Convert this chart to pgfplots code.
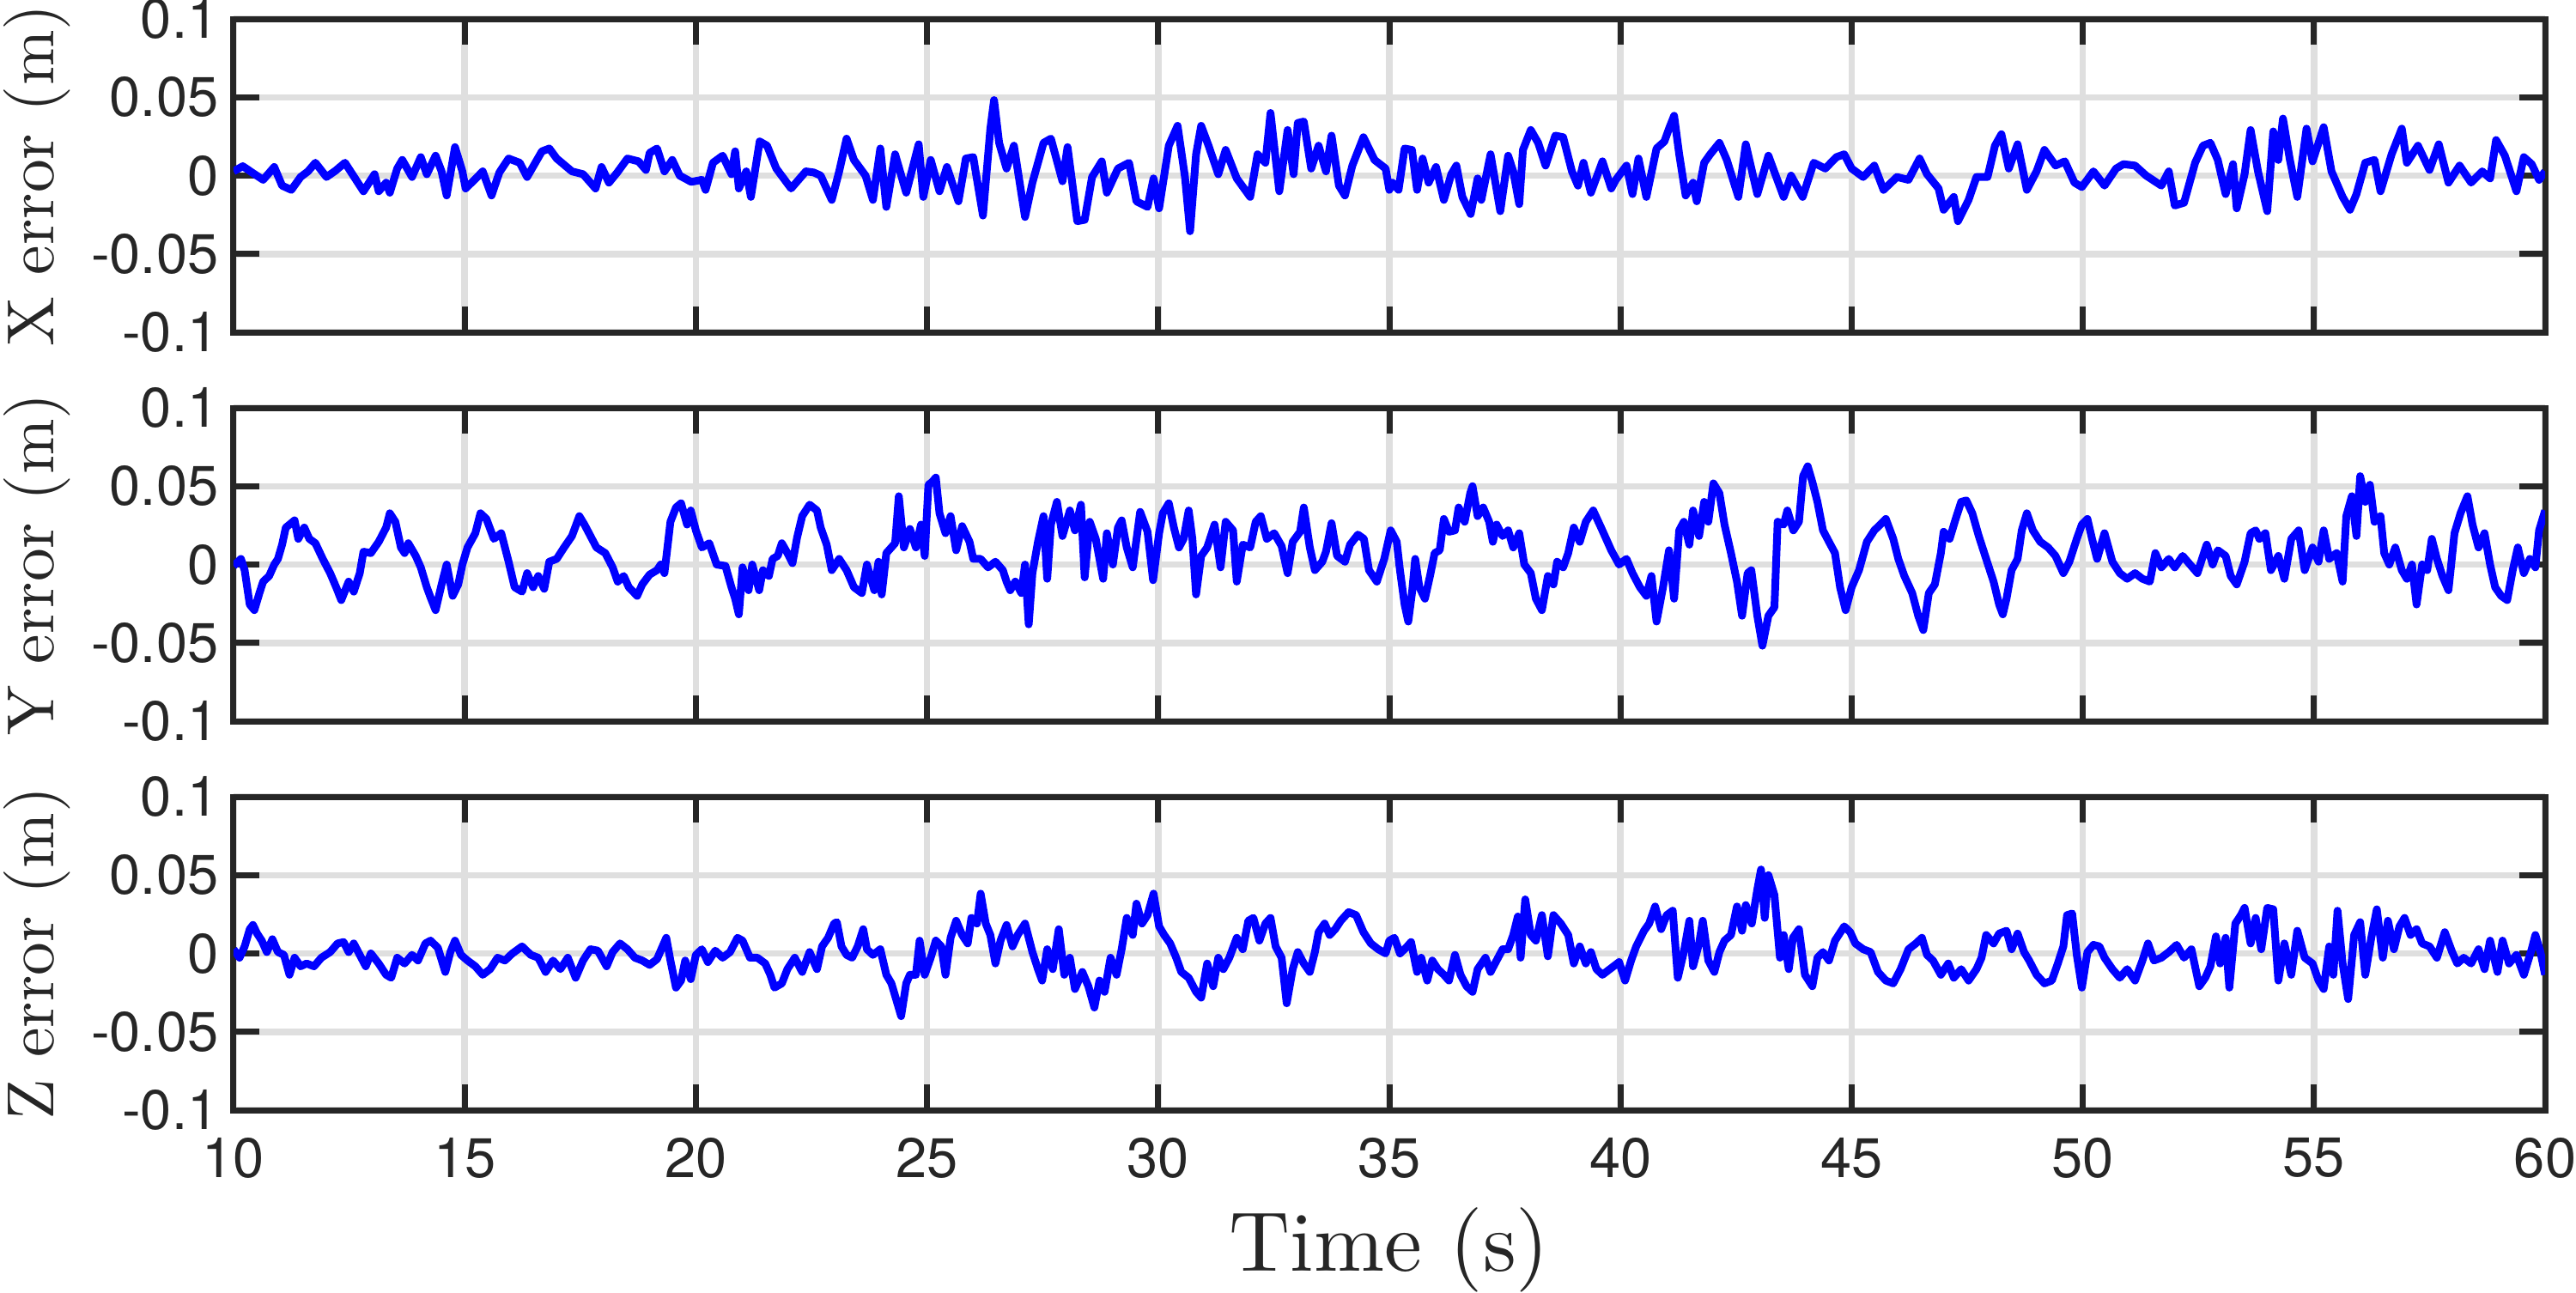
\documentclass[border=0pt]{standalone}
\usepackage{fontspec}
\usepackage{pgfplots}
\usepackage{pgfplotstable}
\pgfplotsset{compat=1.18}

\newfontfamily\ticksans{TeX Gyre Heros}
\newfontfamily\labelserif{lmroman10-regular}[Extension=.otf]
\definecolor{framec}{RGB}{38,38,38}
\definecolor{gridc}{RGB}{223,223,223}
\definecolor{trace}{RGB}{0,0,255}

% position error along x (m)
\pgfplotstableread{
t v
10.00 0.0027
10.20 0.0060
10.40 0.0020
10.64 -0.0027
10.88 0.0055
11.05 -0.0064
11.25 -0.0091
11.45 -0.0009
11.61 0.0027
11.77 0.0082
12.01 -0.0009
12.20 0.0030
12.41 0.0082
12.57 0.0009
12.81 -0.0100
13.05 0.0009
13.14 -0.0100
13.30 -0.0045
13.38 -0.0109
13.54 0.0045
13.65 0.0100
13.86 -0.0009
14.05 0.0118
14.18 0.0009
14.37 0.0127
14.50 0.0027
14.61 -0.0127
14.79 0.0182
14.95 0.0027
15.02 -0.0082
15.20 -0.0030
15.39 0.0027
15.58 -0.0127
15.75 0.0020
15.95 0.0109
16.19 0.0082
16.35 -0.0009
16.67 0.0155
16.83 0.0173
16.99 0.0109
17.32 0.0027
17.56 0.0009
17.83 -0.0082
17.96 0.0055
18.12 -0.0045
18.30 0.0020
18.52 0.0109
18.76 0.0091
18.92 0.0036
19.00 0.0145
19.16 0.0173
19.32 0.0027
19.49 0.0100
19.65 0.0000
19.90 -0.0040
20.13 -0.0027
20.21 -0.0091
20.37 0.0082
20.58 0.0127
20.77 0.0009
20.85 0.0155
20.93 -0.0082
21.09 0.0027
21.19 -0.0136
21.38 0.0218
21.54 0.0191
21.74 0.0045
22.06 -0.0082
22.38 0.0027
22.55 0.0020
22.70 0.0000
22.94 -0.0155
23.10 0.0027
23.26 0.0236
23.42 0.0100
23.67 0.0000
23.83 -0.0155
23.99 0.0173
24.12 -0.0200
24.31 0.0136
24.55 -0.0109
24.82 0.0200
24.92 -0.0136
25.08 0.0100
25.27 -0.0100
25.43 0.0055
25.68 -0.0164
25.84 0.0109
26.00 0.0118
26.21 -0.0255
26.37 0.0300
26.45 0.0482
26.56 0.0209
26.72 0.0045
26.88 0.0191
27.12 -0.0264
27.28 -0.0045
27.52 0.0209
27.68 0.0236
27.93 -0.0036
28.04 0.0182
28.25 -0.0291
28.41 -0.0282
28.57 -0.0009
28.78 0.0091
28.89 -0.0109
29.13 0.0045
29.37 0.0082
29.53 -0.0164
29.77 -0.0200
29.90 -0.0018
30.02 -0.0209
30.23 0.0191
30.42 0.0318
30.58 -0.0009
30.69 -0.0355
30.82 0.0136
30.93 0.0318
31.09 0.0191
31.30 0.0009
31.46 0.0164
31.70 -0.0018
31.99 -0.0136
32.15 0.0136
32.32 0.0082
32.43 0.0400
32.62 -0.0100
32.80 0.0291
32.93 0.0009
33.02 0.0336
33.15 0.0345
33.31 0.0045
33.47 0.0191
33.63 0.0027
33.75 0.0255
33.91 -0.0064
34.04 -0.0127
34.20 0.0064
34.44 0.0245
34.68 0.0100
34.92 0.0045
35.00 -0.0091
35.07 -0.0045
35.20 -0.0091
35.33 0.0173
35.49 0.0164
35.60 -0.0091
35.72 0.0109
35.85 -0.0045
36.01 0.0055
36.18 -0.0155
36.34 0.0009
36.45 0.0064
36.58 -0.0136
36.76 -0.0245
36.91 -0.0018
36.99 -0.0155
37.19 0.0136
37.40 -0.0227
37.57 0.0127
37.68 0.0027
37.81 -0.0182
37.89 0.0164
38.06 0.0291
38.22 0.0209
38.38 0.0064
38.59 0.0255
38.76 0.0245
38.95 0.0027
39.08 -0.0064
39.20 0.0082
39.36 -0.0109
39.61 0.0091
39.80 -0.0082
39.90 -0.0027
40.13 0.0064
40.26 -0.0118
40.39 0.0109
40.56 -0.0136
40.78 0.0173
40.95 0.0218
41.05 0.0300
41.16 0.0382
41.27 0.0136
41.41 -0.0127
41.57 -0.0045
41.65 -0.0164
41.81 0.0082
41.94 0.0136
42.14 0.0209
42.30 0.0100
42.55 -0.0136
42.71 0.0200
42.96 -0.0118
43.20 0.0127
43.37 -0.0009
43.53 -0.0136
43.69 0.0000
43.94 -0.0136
44.18 0.0082
44.43 0.0045
44.67 0.0118
44.84 0.0136
45.00 0.0045
45.25 -0.0009
45.49 0.0064
45.69 -0.0091
45.98 -0.0009
46.23 -0.0027
46.47 0.0109
46.63 0.0009
46.88 -0.0082
46.99 -0.0218
47.21 -0.0136
47.30 -0.0291
47.53 -0.0155
47.70 -0.0009
47.94 -0.0009
48.10 0.0191
48.24 0.0264
48.40 0.0045
48.59 0.0200
48.79 -0.0091
49.00 0.0027
49.17 0.0164
49.41 0.0064
49.61 0.0091
49.82 -0.0045
49.98 -0.0073
50.23 0.0027
50.47 -0.0064
50.72 0.0045
50.88 0.0073
51.13 0.0064
51.37 0.0000
51.70 -0.0064
51.86 0.0027
51.99 -0.0191
52.19 -0.0173
52.43 0.0082
52.60 0.0191
52.76 0.0209
52.92 0.0100
53.09 -0.0118
53.25 0.0073
53.33 -0.0209
53.50 0.0009
53.63 0.0291
53.79 0.0027
53.99 -0.0227
54.12 0.0282
54.23 0.0100
54.33 0.0364
54.48 0.0100
54.64 -0.0136
54.84 0.0300
54.97 0.0091
55.21 0.0309
55.38 0.0027
55.62 -0.0136
55.78 -0.0218
55.92 -0.0118
56.11 0.0082
56.31 0.0100
56.44 -0.0100
56.68 0.0136
56.90 0.0300
57.01 0.0082
57.25 0.0191
57.50 0.0036
57.70 0.0200
57.91 -0.0045
58.15 0.0064
58.40 -0.0045
58.64 0.0027
58.81 -0.0018
58.94 0.0227
59.13 0.0127
59.38 -0.0100
59.54 0.0118
59.71 0.0073
59.87 -0.0027
60.00 0.0027
}\xerr

% position error along y (m)
\pgfplotstableread{
t v
10.00 -0.0009
10.16 0.0036
10.24 -0.0036
10.35 -0.0255
10.45 -0.0291
10.56 -0.0182
10.64 -0.0109
10.77 -0.0073
10.88 0.0000
10.96 0.0036
11.05 0.0127
11.13 0.0236
11.21 0.0255
11.32 0.0282
11.40 0.0164
11.53 0.0236
11.64 0.0164
11.77 0.0136
11.93 0.0036
12.09 -0.0055
12.22 -0.0145
12.33 -0.0227
12.49 -0.0109
12.60 -0.0173
12.73 -0.0055
12.81 0.0082
12.97 0.0073
13.14 0.0145
13.30 0.0236
13.38 0.0327
13.50 0.0273
13.62 0.0109
13.70 0.0073
13.78 0.0136
13.94 0.0055
14.05 -0.0018
14.18 -0.0145
14.26 -0.0209
14.37 -0.0291
14.50 -0.0127
14.61 0.0000
14.74 -0.0200
14.86 -0.0127
14.95 0.0000
15.06 0.0109
15.23 0.0200
15.34 0.0327
15.47 0.0291
15.63 0.0164
15.79 0.0200
15.95 0.0018
16.08 -0.0145
16.24 -0.0173
16.35 -0.0055
16.48 -0.0145
16.59 -0.0073
16.72 -0.0155
16.83 0.0018
16.99 0.0036
17.15 0.0109
17.32 0.0182
17.48 0.0309
17.59 0.0255
17.72 0.0182
17.85 0.0109
18.04 0.0073
18.20 -0.0018
18.31 -0.0109
18.44 -0.0073
18.55 -0.0145
18.73 -0.0200
18.84 -0.0127
19.00 -0.0064
19.16 -0.0036
19.24 0.0000
19.32 -0.0055
19.45 0.0273
19.57 0.0364
19.68 0.0391
19.81 0.0255
19.89 0.0345
20.00 0.0218
20.13 0.0109
20.29 0.0136
20.45 0.0000
20.64 -0.0009
20.77 -0.0145
20.85 -0.0218
20.93 -0.0318
21.01 -0.0018
21.14 -0.0164
21.22 0.0000
21.37 -0.0164
21.45 -0.0036
21.58 -0.0073
21.66 0.0036
21.77 0.0055
21.86 0.0136
21.98 0.0073
22.09 0.0009
22.19 0.0173
22.30 0.0309
22.46 0.0382
22.62 0.0345
22.70 0.0236
22.83 0.0127
22.94 -0.0036
23.10 0.0036
23.26 -0.0036
23.42 -0.0145
23.59 -0.0182
23.70 0.0000
23.86 -0.0164
23.95 0.0018
24.02 -0.0191
24.12 0.0073
24.31 0.0136
24.39 0.0436
24.50 0.0109
24.63 0.0227
24.76 0.0109
24.87 0.0255
24.95 0.0055
25.03 0.0509
25.11 0.0527
25.19 0.0555
25.27 0.0327
25.40 0.0200
25.51 0.0309
25.63 0.0091
25.76 0.0245
25.92 0.0145
26.00 0.0036
26.16 0.0036
26.32 -0.0018
26.48 0.0018
26.64 -0.0036
26.72 -0.0109
26.80 -0.0164
26.91 -0.0109
27.04 -0.0182
27.12 0.0000
27.20 -0.0382
27.28 -0.0055
27.40 0.0145
27.52 0.0309
27.60 -0.0091
27.68 0.0255
27.81 0.0400
27.93 0.0182
28.09 0.0345
28.20 0.0218
28.33 0.0382
28.41 -0.0082
28.52 0.0273
28.65 0.0164
28.81 -0.0091
28.89 0.0200
29.02 0.0000
29.13 0.0236
29.21 0.0282
29.32 0.0109
29.45 -0.0018
29.61 0.0336
29.77 0.0209
29.89 -0.0100
30.02 0.0200
30.10 0.0327
30.23 0.0391
30.34 0.0236
30.45 0.0109
30.55 0.0164
30.66 0.0345
30.74 0.0164
30.82 -0.0191
30.93 0.0055
31.06 0.0109
31.22 0.0255
31.35 -0.0018
31.46 0.0273
31.62 0.0218
31.70 -0.0109
31.83 0.0127
31.99 0.0109
32.11 0.0273
32.22 0.0309
32.35 0.0164
32.51 0.0200
32.67 0.0118
32.80 -0.0055
32.91 0.0145
33.07 0.0209
33.15 0.0364
33.28 0.0109
33.39 -0.0036
33.55 0.0018
33.63 0.0082
33.75 0.0264
33.87 0.0055
34.04 0.0018
34.15 0.0127
34.32 0.0191
34.45 0.0164
34.56 -0.0036
34.73 -0.0109
34.89 0.0036
35.03 0.0218
35.16 0.0145
35.23 -0.0036
35.33 -0.0255
35.41 -0.0364
35.49 -0.0182
35.56 0.0036
35.65 -0.0145
35.77 -0.0218
35.88 -0.0073
35.98 0.0073
36.09 0.0091
36.18 0.0291
36.29 0.0209
36.42 0.0218
36.50 0.0364
36.63 0.0273
36.75 0.0455
36.80 0.0500
36.91 0.0309
37.03 0.0364
37.16 0.0273
37.24 0.0145
37.32 0.0255
37.45 0.0182
37.57 0.0218
37.68 0.0109
37.81 0.0200
37.92 0.0000
38.06 -0.0055
38.17 -0.0218
38.30 -0.0291
38.43 -0.0073
38.55 -0.0127
38.63 0.0018
38.76 -0.0018
38.87 0.0073
38.99 0.0236
39.12 0.0145
39.25 0.0273
39.41 0.0345
39.58 0.0236
39.69 0.0164
39.80 0.0091
39.97 0.0000
40.13 0.0036
40.26 -0.0055
40.42 -0.0145
40.56 -0.0200
40.67 -0.0073
40.78 -0.0364
40.92 -0.0145
41.05 0.0091
41.16 -0.0218
41.27 0.0218
41.37 0.0273
41.49 0.0127
41.57 0.0345
41.70 0.0182
41.81 0.0400
41.90 0.0273
42.01 0.0518
42.14 0.0455
42.25 0.0255
42.39 0.0073
42.52 -0.0109
42.63 -0.0327
42.75 -0.0055
42.83 -0.0036
42.96 -0.0327
43.07 -0.0518
43.20 -0.0327
43.33 -0.0273
43.40 0.0273
43.53 0.0255
43.61 0.0345
43.74 0.0218
43.86 0.0273
43.95 0.0564
44.05 0.0627
44.15 0.0527
44.26 0.0400
44.38 0.0218
44.51 0.0145
44.64 0.0073
44.75 -0.0145
44.87 -0.0291
45.00 -0.0145
45.16 -0.0036
45.33 0.0145
45.49 0.0218
45.62 0.0255
45.74 0.0291
45.90 0.0164
46.01 0.0036
46.14 -0.0073
46.31 -0.0182
46.44 -0.0327
46.55 -0.0418
46.67 -0.0182
46.80 -0.0127
46.93 0.0073
46.99 0.0209
47.12 0.0164
47.25 0.0291
47.37 0.0400
47.48 0.0409
47.61 0.0327
47.75 0.0182
47.91 0.0036
48.07 -0.0109
48.19 -0.0255
48.27 -0.0318
48.35 -0.0218
48.46 -0.0036
48.59 0.0036
48.68 0.0218
48.79 0.0327
48.92 0.0218
49.08 0.0145
49.25 0.0109
49.41 0.0055
49.58 -0.0055
49.71 0.0018
49.87 0.0164
49.98 0.0255
50.10 0.0291
50.20 0.0164
50.31 0.0036
50.47 0.0200
50.64 0.0018
50.80 -0.0055
50.96 -0.0091
51.13 -0.0055
51.29 -0.0091
51.45 -0.0109
51.57 0.0073
51.70 -0.0018
51.86 0.0036
51.99 -0.0018
52.16 0.0055
52.32 0.0000
52.48 -0.0055
52.60 0.0055
52.68 0.0127
52.81 0.0000
52.92 0.0091
53.09 0.0055
53.20 -0.0073
53.33 -0.0127
53.50 0.0018
53.63 0.0200
53.74 0.0218
53.82 0.0164
53.95 0.0200
54.07 -0.0036
54.23 0.0055
54.36 -0.0091
54.51 0.0164
54.67 0.0218
54.80 -0.0036
54.97 0.0109
55.10 0.0018
55.21 0.0218
55.33 0.0036
55.49 0.0073
55.62 -0.0109
55.70 0.0309
55.82 0.0436
55.92 0.0182
56.00 0.0564
56.11 0.0400
56.21 0.0509
56.31 0.0273
56.44 0.0309
56.52 0.0073
56.63 0.0000
56.76 0.0109
56.90 -0.0036
57.01 -0.0091
57.12 0.0000
57.22 -0.0255
57.34 0.0000
57.45 -0.0036
57.55 0.0164
57.66 0.0036
57.78 -0.0073
57.91 -0.0164
58.04 0.0200
58.17 0.0327
58.32 0.0436
58.43 0.0255
58.56 0.0109
58.69 0.0200
58.81 0.0000
58.92 -0.0145
59.05 -0.0200
59.18 -0.0227
59.30 -0.0036
59.41 0.0109
59.54 -0.0055
59.67 0.0036
59.79 -0.0018
59.87 0.0218
60.00 0.0345
}\yerr

% position error along z (m)
\pgfplotstableread{
t v
10.00 0.0027
10.13 -0.0027
10.24 0.0045
10.35 0.0155
10.42 0.0182
10.51 0.0127
10.61 0.0082
10.72 0.0009
10.84 0.0091
10.96 0.0009
11.09 -0.0009
11.21 -0.0136
11.32 -0.0027
11.45 -0.0082
11.58 -0.0064
11.74 -0.0082
11.90 -0.0027
12.09 0.0009
12.25 0.0064
12.38 0.0073
12.49 0.0009
12.60 0.0064
12.73 -0.0009
12.86 -0.0082
12.97 0.0000
13.14 -0.0064
13.30 -0.0136
13.41 -0.0155
13.54 -0.0027
13.70 -0.0064
13.86 -0.0009
13.99 -0.0045
14.15 0.0064
14.26 0.0082
14.42 0.0036
14.58 -0.0118
14.69 0.0009
14.79 0.0082
14.92 -0.0009
15.06 -0.0045
15.23 -0.0082
15.39 -0.0136
15.55 -0.0100
15.71 -0.0027
15.87 -0.0045
16.03 0.0000
16.24 0.0045
16.43 -0.0009
16.59 -0.0027
16.75 -0.0118
16.91 -0.0045
17.07 -0.0100
17.23 -0.0027
17.40 -0.0155
17.56 -0.0045
17.72 0.0027
17.88 0.0018
18.07 -0.0082
18.20 0.0009
18.36 0.0064
18.52 0.0027
18.68 -0.0027
18.84 -0.0045
19.00 -0.0073
19.16 -0.0036
19.36 0.0100
19.45 -0.0045
19.57 -0.0218
19.68 -0.0173
19.77 -0.0045
19.89 -0.0164
20.00 -0.0009
20.13 0.0027
20.26 -0.0055
20.42 0.0018
20.58 -0.0027
20.74 0.0009
20.90 0.0100
21.01 0.0082
21.17 -0.0027
21.33 -0.0027
21.50 -0.0064
21.61 -0.0136
21.70 -0.0218
21.86 -0.0191
21.98 -0.0100
22.14 -0.0027
22.30 -0.0118
22.46 0.0009
22.62 -0.0100
22.73 0.0045
22.86 0.0100
22.99 0.0191
23.05 0.0200
23.15 0.0045
23.26 -0.0009
23.38 -0.0027
23.50 0.0045
23.62 0.0155
23.70 0.0027
23.83 -0.0009
23.99 0.0027
24.12 -0.0136
24.23 -0.0191
24.34 -0.0300
24.44 -0.0400
24.55 -0.0191
24.63 -0.0136
24.76 -0.0136
24.84 0.0082
24.95 -0.0136
25.08 -0.0027
25.19 0.0082
25.31 0.0045
25.40 -0.0136
25.51 0.0100
25.63 0.0209
25.76 0.0118
25.88 0.0064
25.96 0.0227
26.08 0.0191
26.16 0.0382
26.27 0.0191
26.37 0.0118
26.48 -0.0064
26.59 0.0082
26.72 0.0182
26.85 0.0045
26.96 0.0118
27.12 0.0191
27.28 0.0009
27.40 -0.0100
27.49 -0.0173
27.60 0.0027
27.72 -0.0100
27.85 0.0155
27.97 -0.0136
28.09 -0.0027
28.20 -0.0227
28.36 -0.0118
28.49 -0.0209
28.62 -0.0345
28.73 -0.0173
28.84 -0.0245
28.97 -0.0027
29.10 -0.0136
29.21 0.0027
29.32 0.0227
29.45 0.0118
29.53 0.0318
29.65 0.0191
29.77 0.0245
29.90 0.0382
30.02 0.0173
30.13 0.0118
30.26 0.0064
30.39 -0.0027
30.50 -0.0118
30.66 -0.0155
30.82 -0.0245
30.93 -0.0282
31.06 -0.0064
31.19 -0.0209
31.30 -0.0027
31.41 -0.0100
31.54 -0.0027
31.70 0.0100
31.83 0.0027
31.95 0.0209
32.06 0.0227
32.19 0.0082
32.32 0.0191
32.43 0.0227
32.54 0.0045
32.67 -0.0027
32.78 -0.0318
32.91 -0.0100
33.02 0.0009
33.15 -0.0064
33.28 -0.0118
33.39 0.0009
33.47 0.0136
33.60 0.0191
33.71 0.0118
33.83 0.0155
33.95 0.0209
34.12 0.0264
34.28 0.0245
34.44 0.0136
34.60 0.0064
34.76 0.0027
34.92 0.0000
35.00 0.0082
35.11 0.0100
35.23 0.0000
35.36 0.0036
35.47 0.0073
35.60 -0.0118
35.69 -0.0027
35.82 -0.0173
35.93 -0.0045
36.05 -0.0100
36.18 -0.0136
36.29 -0.0173
36.42 -0.0009
36.54 -0.0136
36.67 -0.0209
36.80 -0.0245
36.91 -0.0100
37.08 -0.0027
37.19 -0.0118
37.32 -0.0045
37.45 0.0027
37.57 0.0027
37.68 0.0118
37.78 0.0236
37.84 -0.0027
37.94 0.0345
38.06 0.0118
38.17 0.0082
38.30 0.0245
38.43 -0.0018
38.55 0.0245
38.71 0.0191
38.87 0.0118
38.99 -0.0064
39.12 0.0045
39.25 -0.0064
39.36 0.0009
39.48 -0.0100
39.61 -0.0136
39.77 -0.0100
39.97 -0.0055
40.10 -0.0173
40.23 -0.0045
40.34 0.0045
40.51 0.0145
40.62 0.0191
40.75 0.0300
40.88 0.0155
41.00 0.0245
41.13 0.0273
41.24 -0.0155
41.37 0.0009
41.49 0.0209
41.57 -0.0082
41.70 0.0064
41.78 0.0209
41.90 -0.0045
42.03 -0.0118
42.14 0.0009
42.25 0.0082
42.39 0.0118
42.52 0.0300
42.63 0.0145
42.71 0.0309
42.84 0.0191
42.96 0.0409
43.04 0.0536
43.12 0.0227
43.20 0.0500
43.33 0.0373
43.45 -0.0027
43.53 0.0118
43.64 -0.0100
43.73 0.0100
43.86 0.0155
43.99 -0.0136
44.15 -0.0209
44.26 -0.0027
44.38 0.0009
44.51 -0.0045
44.64 0.0082
44.84 0.0173
44.97 0.0136
45.08 0.0064
45.25 0.0027
45.41 0.0009
45.57 -0.0118
45.74 -0.0173
45.90 -0.0191
46.06 -0.0100
46.23 0.0027
46.39 0.0064
46.52 0.0100
46.63 -0.0009
46.76 -0.0045
46.93 -0.0136
47.09 -0.0064
47.21 -0.0155
47.37 -0.0100
47.53 -0.0173
47.70 -0.0100
47.81 -0.0027
47.91 0.0118
48.07 0.0064
48.19 0.0127
48.35 0.0145
48.46 0.0027
48.59 0.0127
48.73 0.0009
48.84 -0.0045
49.00 -0.0136
49.17 -0.0191
49.33 -0.0173
49.46 -0.0064
49.58 0.0045
49.66 0.0245
49.77 0.0255
49.87 -0.0009
49.98 -0.0218
50.10 0.0009
50.23 0.0055
50.36 0.0045
50.47 -0.0027
50.64 -0.0100
50.80 -0.0155
50.96 -0.0100
51.13 -0.0173
51.29 -0.0045
51.41 0.0064
51.54 -0.0045
51.70 -0.0027
51.86 0.0009
52.03 0.0055
52.19 -0.0027
52.35 0.0027
52.52 -0.0209
52.65 -0.0155
52.76 -0.0082
52.88 0.0109
52.97 -0.0064
53.09 0.0100
53.17 -0.0218
53.30 0.0191
53.42 0.0245
53.50 0.0291
53.63 0.0064
53.74 0.0227
53.86 0.0027
53.99 0.0291
54.12 0.0282
54.23 -0.0173
54.36 0.0064
54.51 -0.0136
54.64 0.0145
54.80 -0.0027
54.97 -0.0064
55.10 -0.0173
55.21 -0.0227
55.33 0.0045
55.42 -0.0136
55.51 0.0273
55.62 -0.0064
55.74 -0.0291
55.87 0.0118
56.00 0.0200
56.11 -0.0136
56.24 0.0100
56.36 0.0282
56.49 -0.0027
56.60 0.0209
56.73 0.0027
56.85 0.0173
56.96 0.0227
57.09 0.0118
57.22 0.0155
57.34 0.0064
57.50 0.0045
57.66 -0.0027
57.83 0.0136
57.99 0.0009
58.10 -0.0064
58.24 -0.0027
58.40 -0.0064
58.56 0.0027
58.69 -0.0100
58.81 0.0082
58.97 -0.0118
59.08 0.0082
59.22 -0.0064
59.38 -0.0009
59.54 -0.0136
59.71 0.0027
59.79 0.0118
59.90 0.0009
60.00 -0.0136
}\zerr

\pgfplotsset{
  errpanel/.style={
    scale only axis,
    width=538.4pt, height=73pt,
    anchor=north west,
    xmin=10, xmax=60, ymin=-0.1, ymax=0.1,
    xtick={10,15,20,25,30,35,40,45,50,55,60},
    ytick={-0.1,-0.05,0,0.05,0.1},
    yticklabels={-0.1,-0.05,0,0.05,0.1},
    xtick pos=both, ytick pos=both,
    xticklabel pos=bottom, yticklabel pos=left,
    tick align=inside,
    major tick length=6pt,
    major tick style={draw=framec, line width=1.4pt},
    axis line style={draw=framec, line width=1.4pt},
    grid=major,
    major grid style={draw=gridc, line width=1.5pt},
    tick label style={font=\ticksans\fontsize{13}{13}\selectfont, text=framec},
    xticklabel style={yshift=-3pt},
    every axis y label/.style={
      at={([xshift=-41.8pt]axis description cs:0,0.5)},
      anchor=base, rotate=90,
      font=\labelserif\fontsize{15.5}{15.5}\selectfont, text=framec},
    every axis x label/.style={
      at={([yshift=-37.4pt]axis description cs:0.5,0)},
      anchor=base,
      font=\labelserif\fontsize{19.7}{19.7}\selectfont, text=framec},
  },
  errline/.style={draw=trace, line width=1.8pt, line join=round, no marks},
}

\begin{document}
\begin{tikzpicture}
\begin{axis}[errpanel, at={(0pt,0pt)}, xticklabels={}, ylabel={X error (m)}]
  \addplot[errline] table[x=t, y=v] {\xerr};
\end{axis}
\begin{axis}[errpanel, at={(0pt,-90.6pt)}, xticklabels={}, ylabel={Y error (m)}]
  \addplot[errline] table[x=t, y=v] {\yerr};
\end{axis}
\begin{axis}[errpanel, at={(0pt,-181.2pt)},
  xticklabels={10,15,20,25,30,35,40,45,50,55,60},
  ylabel={Z error (m)}, xlabel={Time (s)}]
  \addplot[errline] table[x=t, y=v] {\zerr};
\end{axis}
% page frame: 600pt x 301pt around the three panels
\pgfresetboundingbox
\path[use as bounding box] (-54.4pt,4.4pt) rectangle (545.6pt,-296.6pt);
\end{tikzpicture}
\end{document}
